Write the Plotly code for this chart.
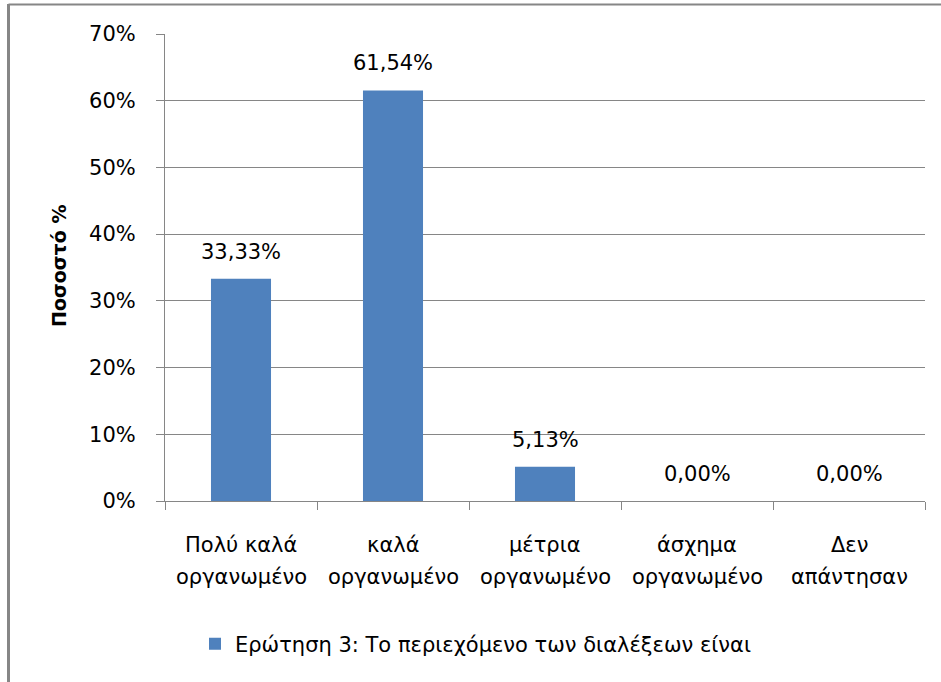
import plotly.graph_objects as go

categories = ["Πολύ καλά<br>οργανωμένο", "καλά<br>οργανωμένο", "μέτρια<br>οργανωμένο",
              "άσχημα<br>οργανωμένο", "Δεν<br>απάντησαν"]
values = [0.3333, 0.6154, 0.0513, 0.0, 0.0]
series_name = "Ερώτηση 3: Το περιεχόμενο των διαλέξεων είναι"
y_title = "Ποσοστό %"

W, H = 941, 682
L, R, T, B = 165, 16, 34, 181
pw, ph = W - L - R, H - T - B

def px_x(p):
    return (p - L) / pw

def px_y(p):
    return (H - B - p) / ph

FONT = "DejaVu Sans"
GRAY = "#868686"

fig = go.Figure()
fig.add_trace(go.Bar(x=categories, y=values, name=series_name,
                     marker=dict(color="#4F81BD", line=dict(width=0)),
                     showlegend=True))

annotations = []
for c, v in zip(categories, values):
    annotations.append(dict(x=c, y=v, xref="x", yref="y", text=f"{v*100:.2f}%".replace(".", ","),
                            showarrow=False, yanchor="middle", yshift=27,
                            font=dict(family=FONT, size=21, color="black")))
    lines = c.split("<br>")
    for i, ln in enumerate(lines):
        annotations.append(dict(x=c, y=px_y(545 + 32 * i), xref="x", yref="paper", text=ln,
                                showarrow=False, yanchor="middle",
                                font=dict(family=FONT, size=21, color="black")))

annotations.append(dict(x=px_x(59), y=px_y(266), xref="paper", yref="paper", text=f"<b>{y_title}</b>",
                        showarrow=False, textangle=-90, xanchor="center", yanchor="middle",
                        font=dict(family=FONT, size=19, color="black")))

shapes = [
    dict(type="line", xref="paper", yref="paper", x0=px_x(8.5), x1=px_x(8.5), y0=px_y(4), y1=px_y(700),
         line=dict(color=GRAY, width=3)),
    dict(type="line", xref="paper", yref="paper", x0=px_x(8.5), x1=px_x(960), y0=px_y(4.5), y1=px_y(4.5),
         line=dict(color=GRAY, width=2)),
]

fig.update_layout(
    width=W, height=H,
    margin=dict(l=L, r=R, t=T, b=B, autoexpand=False),
    paper_bgcolor="white", plot_bgcolor="white",
    separators=",.",
    bargap=0.605,
    font=dict(family=FONT, size=21, color="black"),
    xaxis=dict(showticklabels=False, ticks="outside", ticklen=8, tickcolor=GRAY, tickwidth=1,
               tickson="boundaries", showline=True, linecolor=GRAY, linewidth=1, showgrid=False,
               zeroline=False),
    yaxis=dict(range=[0, 0.7], dtick=0.1, tickformat=".0%", ticks="outside", ticklen=8,
               tickcolor=GRAY, showline=True, linecolor=GRAY, linewidth=1, showgrid=True,
               gridcolor=GRAY, gridwidth=1, zeroline=False, ticklabelstandoff=16,
               tickfont=dict(family=FONT, size=21, color="black")),
    legend=dict(orientation="h", x=px_x(476), y=px_y(644), xanchor="center", yanchor="middle",
                font=dict(family=FONT, size=21, color="black"), bgcolor="rgba(0,0,0,0)"),
    annotations=annotations,
    shapes=shapes,
)

fig.write_html("out.html", config={"displayModeBar": False},
               post_script="document.body.style.margin='0';document.body.style.overflow='hidden';")
